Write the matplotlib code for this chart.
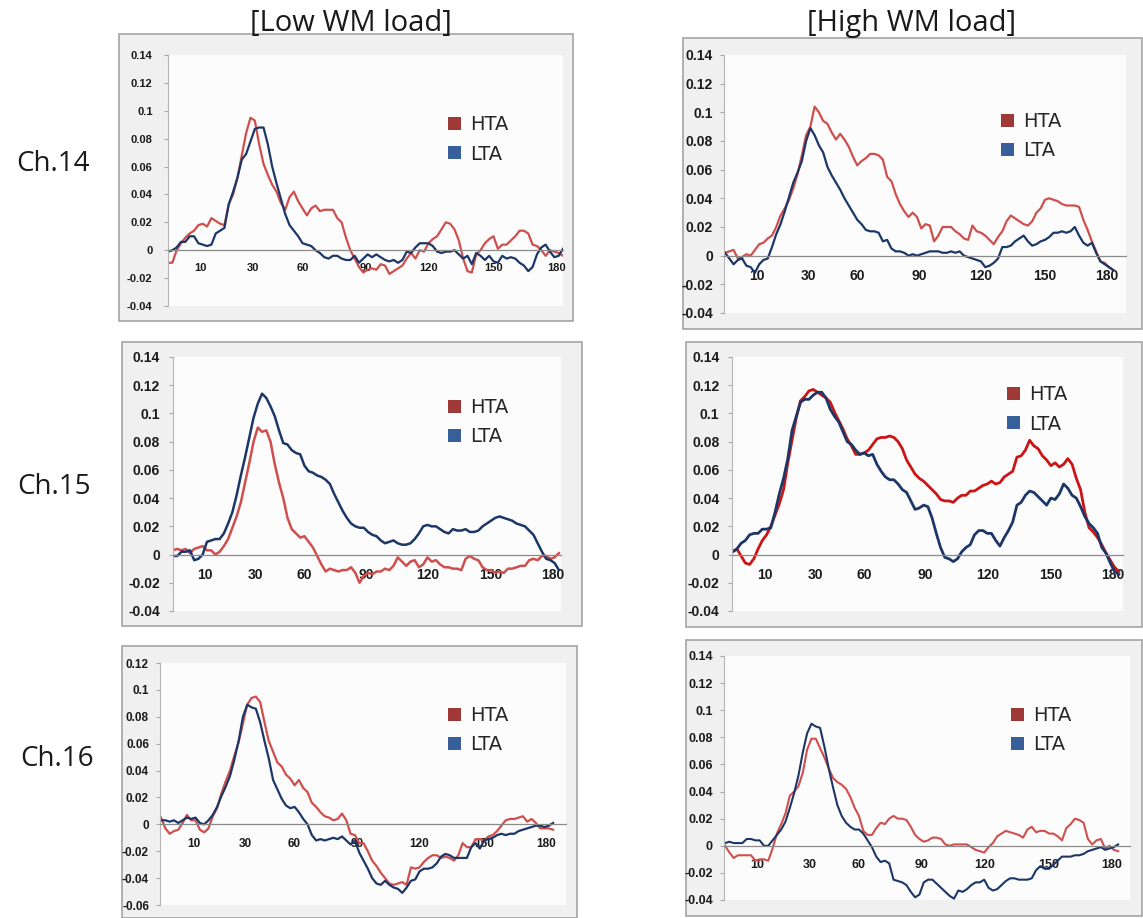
import matplotlib

matplotlib.use("Agg")
import matplotlib.pyplot as plt
from matplotlib.patches import Patch, Rectangle
import numpy as np

W, H = 1143, 918

# sample index, every second sample of the averaged trace
X = np.arange(0, 183, 2)

TICK_POS = [15, 39, 62, 91, 120, 150, 179]
TICK_LABELS = ["10", "30", "60", "90", "120", "150", "180"]
COLUMN_TITLES = ["[Low WM load]", "[High WM load]"]
ROW_LABELS = ["Ch.14", "Ch.15", "Ch.16"]
SERIES_NAMES = ["HTA", "LTA"]

# values in units of 0.001
CH14_LOW_HTA = [
    -9, -9, 0, 5, 9, 12, 14, 18, 19, 17,
    23, 21, 19, 18, 33, 40, 52, 68, 84, 95,
    93, 76, 62, 54, 47, 42, 34, 29, 38, 42,
    35, 30, 25, 30, 32, 28, 29, 29, 29, 23,
    20, 9, 0, -6, -12, -16, -14, -13, -14, -10,
    -11, -17, -15, -13, -11, -6, -2, -6, 0, -1,
    5, 8, 10, 15, 20, 19, 15, 7, -6, -15,
    -16, -3, 0, 5, 8, 10, 1, 4, 4, 7,
    10, 14, 14, 12, 4, 3, 0, -4, 0, -1,
    -2, -4,
]
CH14_LOW_LTA = [
    -1, 0, 2, 6, 6, 10, 10, 5, 4, 3,
    4, 12, 14, 16, 33, 42, 52, 65, 69, 78,
    87, 88, 88, 76, 60, 48, 37, 26, 18, 14,
    10, 5, 4, 3, 0, -2, -5, -6, -4, -4,
    -6, -7, -7, -4, -9, -6, -3, -5, -3, -5,
    -7, -8, -7, -9, -7, -1, -2, 2, 5, 5,
    5, 3, -1, -2, -1, -1, 0, -3, -6, -4,
    -10, -2, -4, -7, -4, -8, -9, -4, -6, -5,
    -6, -9, -11, -15, -12, -3, 2, 4, -1, -5,
    -4, 1,
]
CH14_HIGH_HTA = [
    2, 3, 4, -2, -1, 1, 0, 4, 8, 9,
    12, 14, 20, 28, 33, 39, 47, 57, 70, 84,
    90, 104, 100, 94, 92, 86, 81, 85, 81, 76,
    69, 63, 66, 68, 71, 71, 70, 67, 55, 52,
    43, 36, 31, 27, 30, 27, 19, 22, 21, 10,
    14, 20, 20, 20, 17, 15, 12, 11, 21, 17,
    16, 14, 11, 8, 13, 17, 24, 28, 26, 24,
    22, 21, 24, 30, 33, 39, 40, 39, 38, 36,
    35, 35, 35, 34, 25, 18, 10, 3, -4, -5,
    -8, -10,
]
CH14_HIGH_LTA = [
    2, -2, -6, -3, -2, -7, -8, -12, -6, -3,
    -2, 6, 15, 22, 31, 41, 51, 58, 66, 80,
    89, 84, 77, 72, 62, 56, 51, 46, 40, 35,
    30, 25, 22, 18, 17, 17, 16, 10, 11, 5,
    3, 3, 2, 0, 1, 0, 1, 2, 3, 3,
    3, 2, 2, 3, 2, 3, 0, -1, -2, -3,
    -4, -8, -7, -5, -2, 6, 6, 7, 10, 12,
    14, 10, 7, 8, 10, 11, 13, 16, 16, 17,
    16, 17, 20, 14, 9, 7, 9, 2, -4, -6,
    -8, -10,
]
CH15_LOW_HTA = [
    3, 4, 3, 4, 1, 4, 5, 6, 3, 3,
    0, 2, 6, 11, 19, 27, 37, 51, 65, 80,
    90, 87, 88, 80, 64, 51, 40, 26, 18, 15,
    12, 13, 9, 5, -1, -7, -12, -10, -11, -12,
    -11, -11, -9, -13, -20, -15, -13, -14, -12, -12,
    -10, -11, -8, -2, -5, -8, -5, -4, -9, -7,
    -2, -5, -4, -7, -9, -9, -10, -10, -11, -3,
    -1, -3, -4, -9, -11, -11, -13, -12, -13, -10,
    -10, -9, -8, -8, -4, -3, -4, -1, -1, -3,
    -2, 1,
]
CH15_LOW_LTA = [
    -1, -1, 2, 2, 3, -4, -3, 0, 9, 10,
    11, 11, 15, 22, 30, 42, 56, 69, 83, 97,
    107, 114, 111, 105, 98, 88, 79, 78, 74, 72,
    71, 63, 59, 58, 56, 55, 53, 50, 43, 37,
    31, 26, 22, 20, 19, 19, 16, 14, 13, 10,
    8, 9, 10, 8, 7, 7, 8, 11, 15, 20,
    21, 20, 20, 18, 16, 15, 18, 17, 17, 18,
    16, 16, 17, 20, 22, 24, 26, 27, 26, 25,
    24, 22, 21, 20, 17, 14, 8, 2, -3, -4,
    -6, -11,
]
CH15_HIGH_HTA = [
    2, 4, -1, -6, -7, -3, 4, 10, 14, 20,
    28, 36, 46, 65, 81, 97, 109, 112, 116, 117,
    115, 113, 111, 108, 101, 95, 89, 82, 77, 71,
    71, 72, 74, 78, 82, 83, 83, 84, 83, 80,
    75, 67, 62, 57, 54, 52, 49, 46, 43, 39,
    38, 38, 37, 40, 42, 42, 45, 45, 47, 49,
    50, 52, 50, 51, 55, 57, 59, 69, 70, 74,
    81, 77, 75, 70, 67, 63, 65, 62, 64, 68,
    64, 54, 46, 30, 19, 16, 12, 7, 1, -4,
    -9, -12,
]
CH15_HIGH_LTA = [
    2, 4, 8, 10, 14, 15, 15, 18, 18, 19,
    30, 43, 54, 68, 88, 98, 108, 110, 110, 113,
    115, 115, 111, 103, 98, 94, 87, 80, 78, 74,
    71, 72, 70, 71, 64, 59, 55, 53, 53, 50,
    46, 44, 38, 32, 33, 35, 34, 26, 15, 5,
    -2, -3, -5, -3, 2, 5, 7, 14, 17, 17,
    15, 15, 10, 6, 12, 17, 23, 35, 37, 42,
    45, 44, 41, 38, 35, 40, 39, 43, 50, 47,
    42, 40, 34, 27, 22, 19, 15, 5, 1, -6,
    -12, -14,
]
CH16_LOW_HTA = [
    5, -3, -7, -5, -4, 1, 7, 3, 3, -4,
    -6, -3, 6, 12, 23, 32, 40, 51, 61, 75,
    89, 94, 95, 91, 76, 62, 54, 46, 43, 37,
    34, 29, 33, 27, 24, 16, 13, 9, 6, 5,
    3, 4, 8, 3, -7, -8, -14, -14, -20, -27,
    -31, -36, -40, -44, -45, -44, -43, -45, -32, -33,
    -32, -28, -25, -23, -23, -25, -24, -25, -27, -23,
    -14, -17, -17, -11, -11, -12, -9, -8, -5, -1,
    3, 4, 4, 5, 6, 2, 4, 1, -3, -3,
    -3, -4,
]
CH16_LOW_LTA = [
    3, 3, 2, 3, 1, 3, 5, 4, 5, 1,
    0, 3, 7, 13, 21, 28, 36, 48, 62, 80,
    89, 87, 86, 76, 62, 49, 33, 26, 19, 14,
    12, 13, 9, 4, 0, -8, -12, -11, -12, -11,
    -10, -11, -9, -12, -15, -12, -21, -27, -33, -40,
    -44, -45, -42, -45, -47, -48, -51, -47, -42, -41,
    -35, -33, -33, -32, -29, -24, -22, -23, -25, -25,
    -25, -25, -17, -14, -18, -12, -11, -10, -8, -7,
    -8, -7, -7, -5, -4, -3, -2, -1, -1, -2,
    -1, 1,
]
CH16_HIGH_HTA = [
    0, -5, -9, -7, -7, -7, -7, -11, -10, -10,
    -11, -2, 9, 16, 24, 37, 40, 44, 54, 71,
    79, 79, 72, 65, 57, 50, 47, 45, 42, 36,
    28, 22, 11, 8, 8, 13, 17, 16, 20, 22,
    20, 20, 19, 14, 8, 5, 3, 4, 6, 6,
    5, 1, 0, 1, 1, 1, 1, -1, -3, -4,
    -5, -1, 2, 7, 9, 11, 10, 9, 8, 6,
    12, 14, 10, 11, 11, 9, 9, 7, 4, 13,
    16, 20, 19, 17, 5, 1, 4, 5, -2, 0,
    -3, -4,
]
CH16_HIGH_LTA = [
    2, 3, 2, 2, 2, 5, 5, 4, 4, 0,
    0, 4, 8, 12, 18, 28, 39, 52, 69, 83,
    90, 88, 87, 73, 57, 43, 30, 22, 17, 14,
    12, 12, 9, 4, -1, -8, -12, -11, -13, -25,
    -26, -27, -29, -34, -38, -36, -27, -25, -25, -28,
    -31, -34, -37, -39, -33, -34, -32, -29, -27, -27,
    -25, -31, -33, -32, -29, -26, -24, -24, -25, -25,
    -25, -24, -18, -15, -17, -17, -14, -11, -8, -8,
    -8, -7, -7, -6, -4, -3, -2, -1, -3, -2,
    -1, 1,
]

RED = "#cf4f4d"
BRIGHT_RED = "#cc1414"
NAVY = "#1c3767"
HTA_SQUARE = "#9f3936"
LTA_SQUARE = "#37609a"
NARROW = ["Liberation Sans Narrow", "Liberation Sans", "DejaVu Sans"]
REGULAR = ["Liberation Sans", "DejaVu Sans"]

# frame / plot boxes are pixel rectangles (left, top, right, bottom)
PANELS = [
    dict(hta=CH14_LOW_HTA, lta=CH14_LOW_LTA, frame=(119, 34, 573, 321),
         plot=(168, 55, 563, 306), xlim=(0, 182), ylim=(-0.04, 0.14),
         font=(REGULAR, 8), ypad=8, legend=(448, 115), color=RED, lw=1.6),
    dict(hta=CH14_HIGH_HTA, lta=CH14_HIGH_LTA, frame=(683, 38, 1142, 329),
         plot=(724, 55, 1126, 313), xlim=(-0.5, 188), ylim=(-0.04, 0.14),
         font=(NARROW, 10), ypad=5, legend=(1001, 112), color=RED, lw=1.6),
    dict(hta=CH15_LOW_HTA, lta=CH15_LOW_LTA, frame=(122, 342, 582, 626),
         plot=(173, 357, 561, 611), xlim=(0, 183), ylim=(-0.04, 0.14),
         font=(REGULAR, 10), ypad=6.5, legend=(448, 398), color=RED, lw=1.8),
    dict(hta=CH15_HIGH_HTA, lta=CH15_HIGH_LTA, frame=(686, 342, 1142, 627),
         plot=(732, 357, 1123, 611), xlim=(-0.3, 184), ylim=(-0.04, 0.14),
         font=(NARROW, 10), ypad=6, legend=(1007, 385), color=BRIGHT_RED, lw=2.0),
    dict(hta=CH16_LOW_HTA, lta=CH16_LOW_LTA, frame=(122, 646, 577, 918),
         plot=(160, 663, 566, 905), xlim=(-0.5, 188), ylim=(-0.06, 0.12),
         font=(NARROW, 8.5), ypad=5, legend=(448, 706), color=RED, lw=1.6),
    dict(hta=CH16_HIGH_HTA, lta=CH16_HIGH_LTA, frame=(686, 640, 1142, 916),
         plot=(724, 656, 1130, 900), xlim=(-0.5, 187.5), ylim=(-0.04, 0.14),
         font=(NARROW, 9), ypad=5, legend=(1011, 706), color=RED, lw=1.5),
]


def fig_rect(box):
    left, top, right, bottom = box
    return [left / W, 1 - bottom / H, (right - left) / W, (bottom - top) / H]


def y_label(v):
    v = round(v, 2)
    return "0" if abs(v) < 1e-9 else f"{v:g}"


def draw_panel(fig, spec):
    l, b, w, h = fig_rect(spec["frame"])
    fig.add_artist(Rectangle((l, b), w, h, transform=fig.transFigure,
                             facecolor="#f0f0f0", edgecolor="#a4a4a4",
                             linewidth=1.2, zorder=-1))

    ax = fig.add_axes(fig_rect(spec["plot"]))
    ax.set_facecolor("#fcfcfc")
    hta = np.array(spec["hta"]) / 1000.0
    lta = np.array(spec["lta"]) / 1000.0
    assert len(hta) == len(X) and len(lta) == len(X)
    ax.plot(X, hta, color=spec["color"], lw=spec["lw"], solid_joinstyle="round")
    ax.plot(X, lta, color=NAVY, lw=spec["lw"], solid_joinstyle="round")

    ax.set_xlim(*spec["xlim"])
    ax.set_ylim(*spec["ylim"])
    for side in ("top", "right"):
        ax.spines[side].set_visible(False)
    ax.spines["left"].set_color("#b4b4b4")
    ax.spines["left"].set_linewidth(0.8)
    ax.spines["bottom"].set_position(("data", 0))
    ax.spines["bottom"].set_color("#8a8a8a")
    ax.spines["bottom"].set_linewidth(0.9)

    family, size = spec["font"]
    yticks = np.arange(spec["ylim"][0], spec["ylim"][1] + 1e-9, 0.02)
    ax.set_yticks(yticks, labels=[y_label(v) for v in yticks],
                  fontsize=size, fontweight="bold", family=family)
    ax.set_xticks(TICK_POS, labels=TICK_LABELS,
                  fontsize=size, fontweight="bold", family=family)
    ax.tick_params(axis="y", length=3, width=0.8, color="#a8a8a8",
                   pad=spec["ypad"], labelcolor="#1a1a1a")
    ax.tick_params(axis="x", length=0, pad=9.5, labelcolor="#1a1a1a")

    lx, ly = spec["legend"]
    handles = [Patch(facecolor=HTA_SQUARE), Patch(facecolor=LTA_SQUARE)]
    leg = ax.legend(handles, SERIES_NAMES, loc="upper left",
                    bbox_to_anchor=(lx / W, 1 - ly / H),
                    bbox_transform=fig.transFigure, frameon=False,
                    borderpad=0, borderaxespad=0, handlelength=0.68,
                    handleheight=0.68, handletextpad=0.45, labelspacing=0.54,
                    prop={"family": "DejaVu Sans", "size": 14})
    for text in leg.get_texts():
        text.set_color("#262626")
    return ax


def main():
    fig = plt.figure(figsize=(W / 100, H / 100), dpi=100)
    fig.patch.set_facecolor("white")

    for spec in PANELS:
        draw_panel(fig, spec)

    title_font = ["Open Sans", "DejaVu Sans"]
    for title, cx in zip(COLUMN_TITLES, (351, 912)):
        fig.text(cx / W, 1 - 24 / H, title, ha="center", va="center",
                 fontsize=21, family=title_font, color="#1a1a1a")
    for label, (cx, cy) in zip(ROW_LABELS, ((53, 164), (54, 487), (57, 759))):
        fig.text(cx / W, 1 - cy / H, label, ha="center", va="center",
                 fontsize=20, family=title_font, color="#1a1a1a")

    fig.savefig("out.png", dpi=100)


if __name__ == "__main__":
    main()
